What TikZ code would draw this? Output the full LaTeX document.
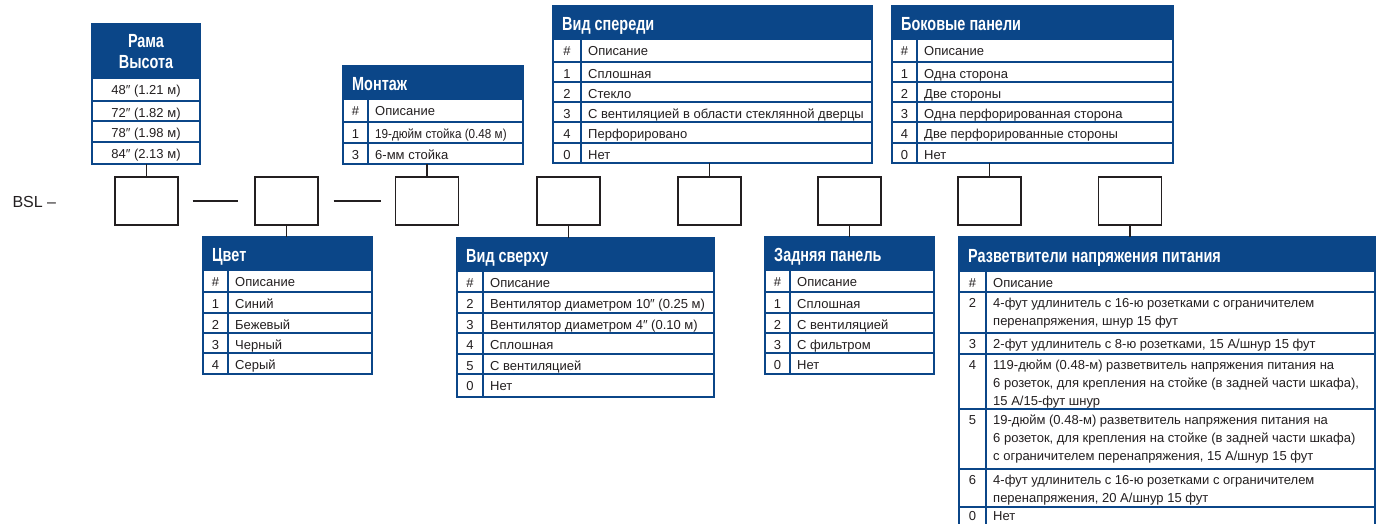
\documentclass[tikz,border=0pt]{standalone}
\usepackage{fontspec}
\setmainfont{Liberation Sans}
\usetikzlibrary{positioning,calc}

\definecolor{bslblue}{RGB}{11,70,136}
\definecolor{bslink}{RGB}{35,31,32}
\newcounter{cellno}
\newcommand{\rowfont}{\fontsize{13}{18}\selectfont}
\newcommand{\hdrfont}{\fontsize{19}{21}\selectfont\bfseries}
\newcommand{\rowbase}{16.5}

\tikzset{
  slot/.style={draw=bslink, line width=1.3pt, minimum width=63pt, minimum height=48pt, inner sep=0pt},
  link/.style={draw=bslink, line width=1.3pt},
  grid/.style={draw=bslblue, line width=1.1pt},
  frame/.style={draw=bslblue, line width=1.4pt, inner sep=0pt, outer sep=0pt},
  hdr/.style={fill=bslblue, draw=bslblue, line width=1.4pt, inner sep=0pt, outer sep=0pt},
  ttl/.style={text=white, font=\hdrfont, inner sep=0pt},
  numtxt/.style={font=\rowfont, text=bslink, inner sep=0pt, anchor=base},
  desctxt/.style={font=\rowfont, text=bslink, inner sep=0pt, anchor=base west},
}

% table frame + header; keeps its columns for \optrow
\newcommand{\opttable}[8]{%
  \def\tabL{#2}\def\tabD{#3}\def\tabR{#4}%
  \node[frame, minimum width={(#4-#2)*1pt}, minimum height={(#7-#5)*1pt}] (#1) at ({(#2+#4)/2},{(#5+#7)/2}) {};
  \node[hdr, minimum width={(#4-#2)*1pt}, minimum height={(#6-#5)*1pt}] (#1-h) at ({(#2+#4)/2},{(#5+#6)/2}) {};
  \node[ttl, anchor=base west] (#1-t) at (#2+9,#6-8.5) {\scalebox{.76}[1]{#8}};
}
% one row: top, bottom, number, text
\newcommand{\optrow}[4]{%
  \stepcounter{cellno}%
  \draw[grid] (\tabL,#2) -- (\tabR,#2) (\tabD,#1) -- (\tabD,#2);
  \node[numtxt] (n\arabic{cellno}) at ({(\tabL+\tabD)/2},#1+\rowbase) {#3};
  \node[desctxt] (d\arabic{cellno}) at (\tabD+7,#1+\rowbase) {\parbox[t]{400pt}{#4}};
}

\begin{document}
\begin{tikzpicture}[x=1pt,y=-1pt]
  \useasboundingbox[fill=white] (0,0) rectangle (1383,523);

  % code slots
  \node[anchor=base west, font=\fontsize{16}{18}\selectfont, text=bslink] (bsl) at (9,207) {BSL --};
  \node[slot] (s1) at (146.5,201) {};
  \node[slot] (s2) at (286.5,201) {};
  \node[slot] (s3) at (427,201) {};
  \node[slot] (s4) at (568.5,201) {};
  \node[slot] (s5) at (709.5,201) {};
  \node[slot] (s6) at (849.5,201) {};
  \node[slot] (s7) at (989.5,201) {};
  \node[slot] (s8) at (1130,201) {};
  \draw[link] ([xshift=14pt]s1.east) -- ([xshift=-16pt]s2.west);
  \draw[link] ([xshift=15pt]s2.east) -- ([xshift=-14pt]s3.west);

  % frame height
  \node[frame, minimum width=108pt, minimum height=140pt] (rama) at (146,94) {};
  \node[hdr, minimum width=108pt, minimum height=54pt] (rama-h) at (146,51) {};
  \node[ttl, anchor=base] (rama-t1) at (146,47) {\scalebox{.76}[1]{Рама}};
  \node[ttl, anchor=base] (rama-t2) at (146,68) {\scalebox{.76}[1]{Высота}};
  \foreach \ya/\yb/\txt [count=\i] in {78/101/48″ (1.21 м), 101/121/72″ (1.82 м), 121/142/78″ (1.98 м), 142/164/84″ (2.13 м)}{
    \draw[grid] (92,\yb) -- (200,\yb);
    \node[numtxt] (h\i) at (146,\ya+16.5) {\txt};
  }

  % mounting
  \opttable{mount}{343}{368}{523}{66}{99}{164}{Монтаж}
  \optrow{99}{122}{\#}{Описание}
  \optrow{122}{143}{1}{\scalebox{.9}[1]{19-дюйм стойка (0.48 м)}}
  \optrow{143}{164}{3}{6-мм стойка}

  % front
  \opttable{front}{553}{581}{872}{6}{39}{163}{Вид спереди}
  \optrow{39}{62}{\#}{Описание}
  \optrow{62}{82}{1}{Сплошная}
  \optrow{82}{102}{2}{Стекло}
  \optrow{102}{122}{3}{С вентиляцией в области стеклянной дверцы}
  \optrow{122}{143}{4}{Перфорировано}
  \optrow{143}{163}{0}{Нет}

  % side panels
  \opttable{side}{892}{917}{1173}{6}{39}{163}{Боковые панели}
  \optrow{39}{62}{\#}{Описание}
  \optrow{62}{82}{1}{Одна сторона}
  \optrow{82}{102}{2}{Две стороны}
  \optrow{102}{122}{3}{Одна перфорированная сторона}
  \optrow{122}{143}{4}{Две перфорированные стороны}
  \optrow{143}{163}{0}{Нет}

  % colour
  \opttable{color}{203}{228}{372}{237}{270}{374}{Цвет}
  \optrow{270}{292}{\#}{Описание}
  \optrow{292}{313}{1}{Синий}
  \optrow{313}{333}{2}{Бежевый}
  \optrow{333}{353}{3}{Черный}
  \optrow{353}{374}{4}{Серый}

  % top
  \opttable{top}{457}{483}{714}{238}{271}{397}{Вид сверху}
  \optrow{271}{292}{\#}{Описание}
  \optrow{292}{313}{2}{Вентилятор диаметром 10″ (0.25 м)}
  \optrow{313}{333}{3}{Вентилятор диаметром 4″ (0.10 м)}
  \optrow{333}{354}{4}{Сплошная}
  \optrow{354}{374}{5}{С вентиляцией}
  \optrow{374}{397}{0}{Нет}

  % rear
  \opttable{rear}{765}{790}{934}{237}{270}{374}{Задняя панель}
  \optrow{270}{292}{\#}{Описание}
  \optrow{292}{313}{1}{Сплошная}
  \optrow{313}{333}{2}{С вентиляцией}
  \optrow{333}{353}{3}{С фильтром}
  \optrow{353}{374}{0}{Нет}

  % power
  \opttable{power}{959}{986}{1375}{237}{271}{527}{Разветвители напряжения питания}
  \optrow{271}{292}{\#}{Описание}
  \renewcommand{\rowbase}{15}
  \optrow{292}{333}{2}{4-фут удлинитель с 16-ю розетками с ограничителем\\перенапряжения, шнур 15 фут}
  \optrow{333}{354}{3}{2-фут удлинитель с 8-ю розетками, 15 А/шнур 15 фут}
  \optrow{354}{409}{4}{119-дюйм (0.48-м) разветвитель напряжения питания на\\6 розеток, для крепления на стойке (в задней части шкафа),\\15 А/15-фут шнур}
  \optrow{409}{469}{5}{19-дюйм (0.48-м) разветвитель напряжения питания на\\6 розеток, для крепления на стойке (в задней части шкафа)\\с ограничителем перенапряжения, 15 А/шнур 15 фут}
  \optrow{469}{507}{6}{4-фут удлинитель с 16-ю розетками с ограничителем\\перенапряжения, 20 А/шнур 15 фут}
  \renewcommand{\rowbase}{13.5}
  \optrow{507}{527}{0}{Нет}

  % links
  \draw[link] (s1.north) -- (s1.north |- rama.south);
  \draw[link] (s2.south) -- (s2.south |- color.north);
  \draw[link] (s3.north) -- (s3.north |- mount.south);
  \draw[link] (s4.south) -- (s4.south |- top.north);
  \draw[link] (s5.north) -- (s5.north |- front.south);
  \draw[link] (s6.south) -- (s6.south |- rear.north);
  \draw[link] (s7.north) -- (s7.north |- side.south);
  \draw[link] (s8.south) -- (s8.south |- power.north);
\end{tikzpicture}
\end{document}
